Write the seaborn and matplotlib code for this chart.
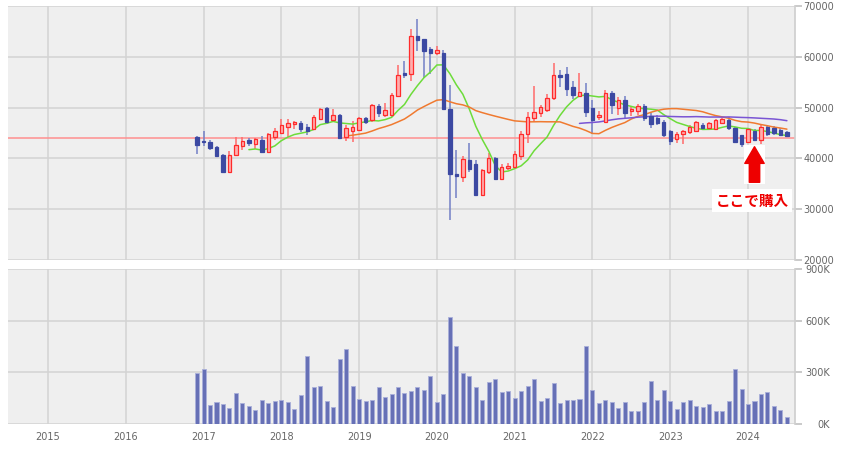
import numpy as np
import pandas as pd
import matplotlib.pyplot as plt
import seaborn as sns
from matplotlib.patches import Rectangle

# ----- dati mensili (dic 2016 - lug 2024) -----
first_month = "2016-12"

opens = [44200,
         43500, 43300, 42200, 40600, 37400, 40600, 42500, 43600, 42900, 43700, 41200, 44300,
         45000, 46200, 46800, 47000, 46100, 45700, 47700, 49900, 47600, 48600, 44300, 45400,
         45600, 47900, 47600, 50400, 48500, 48500, 52300, 56900, 56600, 64100, 63600, 61500,
         60700, 60700, 49800, 36900, 36400, 39700, 38800, 32800, 37400, 40000, 36000, 38200,
         38400, 40500, 44900, 47900, 49000, 49500, 51800, 56500, 56700, 54000, 52200, 52800,
         49900, 48100, 47200, 52900, 50000, 51500, 49300, 49300, 50300, 48300, 48000, 47200,
         45300, 43800, 44800, 45200, 45400, 46600, 45900, 45800, 46900, 47500, 45900, 44600,
         43300, 45400, 43700, 46200, 45900, 45600, 45200]
highs = [44400,
         45300, 43700, 42500, 40900, 41500, 44200, 44200, 44100, 44100, 44500, 45000, 46000,
         47700, 47700, 47400, 47300, 46700, 48500, 50000, 50200, 49800, 48800, 46600, 47400,
         48100, 48200, 50800, 50800, 51000, 52800, 58400, 59200, 65400, 67400, 63600, 61900,
         62100, 61300, 54400, 41700, 40500, 43000, 39600, 38000, 41000, 40300, 38800, 39100,
         41400, 45300, 49100, 54300, 50600, 52700, 58700, 57400, 58000, 55300, 56900, 54800,
         51500, 49300, 53500, 53300, 52000, 52300, 50300, 50800, 50800, 49000, 48500, 47500,
         45600, 45100, 45600, 46500, 47400, 46900, 47200, 47700, 48000, 48200, 46200, 44700,
         45900, 45700, 46500, 46600, 46300, 45900, 45400]
lows = [40900,
        42500, 41600, 40200, 37200, 37200, 40400, 41700, 42400, 41900, 41000, 41000, 43600,
        44900, 44200, 45800, 45200, 44600, 45600, 47500, 46800, 47400, 43800, 43500, 43300,
        45500, 46800, 47200, 48100, 48100, 48100, 52300, 55800, 55200, 61200, 55800, 56700,
        60300, 49700, 27900, 32200, 35300, 37300, 32600, 32600, 36900, 35700, 35800, 37800,
        38000, 39700, 43000, 47200, 48100, 49100, 51500, 54100, 52300, 51700, 52000, 48200,
        44900, 47600, 47100, 48800, 48500, 47800, 48400, 48500, 47400, 46000, 46500, 44300,
        42600, 43000, 42800, 44800, 45200, 45600, 45700, 45500, 46700, 45600, 43000, 42200,
        43000, 43500, 42900, 44500, 44600, 44400, 44200]
closes = [42600,
          43200, 42100, 40500, 37400, 40700, 42600, 43400, 43000, 43800, 41200, 44800, 45300,
          46600, 47000, 47200, 45700, 45400, 48100, 49700, 47200, 48600, 44000, 45900, 46200,
          47900, 47200, 50500, 48900, 49500, 52500, 56400, 56500, 64100, 63300, 61200, 60700,
          61300, 49700, 37000, 36600, 39800, 37900, 32800, 37700, 40000, 35900, 38300, 38600,
          40900, 44800, 48200, 49200, 50100, 51900, 56400, 56100, 53600, 52500, 53100, 49200,
          47600, 48500, 52900, 50500, 51500, 49000, 49800, 50300, 48000, 46700, 47000, 44700,
          43400, 44900, 45300, 46200, 47200, 45900, 46900, 47500, 47700, 45900, 43200, 42900,
          45700, 43700, 46100, 44800, 45000, 44700, 44500]
volumes_k = [295,
             320, 111, 126, 115, 91, 179, 120, 105, 82, 140, 120, 134,
             140, 126, 89, 167, 396, 212, 223, 134, 97, 377, 435, 223,
             146, 134, 140, 212, 159, 173, 212, 179, 192, 212, 198, 280,
             126, 173, 619, 454, 295, 280, 212, 140, 241, 262, 185, 192,
             153, 192, 223, 262, 134, 153, 237, 120, 140, 140, 146, 454,
             198, 120, 140, 126, 95, 126, 76, 76, 126, 250, 140, 198,
             134, 87, 126, 140, 107, 101, 114, 76, 76, 134, 320, 204,
             114, 134, 173, 185, 107, 82, 39]

ma_windows = [9, 24, 60]
ma_colors = ["#6ddc3a", "#f07a30", "#7a55d4"]

buy_price = 44100
buy_month = "2024-02"
buy_label = "ここで購入"


def main():
    sns.set_theme(style="whitegrid")
    plt.rcParams["font.family"] = ["DejaVu Sans", "Noto Sans CJK JP"]

    months = pd.period_range(first_month, periods=len(closes), freq="M")
    df = pd.DataFrame({
        "t": months.year + (months.month - 1) / 12,
        "open": opens, "high": highs, "low": lows, "close": closes,
        "volume": np.array(volumes_k) * 1000,
    })
    for w in ma_windows:
        df[f"ma{w}"] = df["close"].rolling(w).mean()

    bp = pd.Period(buy_month, freq="M")
    buy_t = bp.year + (bp.month - 1) / 12

    W, H = 843, 451
    fig = plt.figure(figsize=(W / 100, H / 100), dpi=100)
    ax1 = fig.add_axes([8 / W, 1 - 260 / H, 787 / W, 254 / H])
    ax2 = fig.add_axes([8 / W, 1 - 424 / H, 787 / W, 155 / H])

    # ----- candele -----
    up = (df["close"] >= df["open"]).to_numpy()
    ax1.vlines(df["t"], df["low"], df["high"],
               colors=np.where(up, "#ff6a6a", "#7280c6"), lw=1.1, zorder=3)
    body = (df["close"] - df["open"]).abs().clip(lower=200)
    ax1.bar(df["t"], body, bottom=np.minimum(df["open"], df["close"]), width=0.044,
            color=np.where(up, "#ffaeae", "#3c49a2"),
            edgecolor=np.where(up, "#ff2b2b", "#3c49a2"), lw=0.9, zorder=4)

    # medie mobili
    for w, c in zip(ma_windows, ma_colors):
        sns.lineplot(data=df, x="t", y=f"ma{w}", color=c, lw=1.1, ax=ax1, zorder=3.5)

    ax1.axhline(buy_price, color="#ff8f8f", lw=1.1, zorder=2.5)

    # freccia + etichetta
    ax1.add_patch(Rectangle((buy_t - 0.135, 35000), 0.27, 7600,
                            facecolor="white", edgecolor="none", zorder=5))
    ax1.annotate("", xy=(buy_t, 42300), xytext=(buy_t, 35300),
                 arrowprops=dict(arrowstyle="simple,head_length=1.2,head_width=1.4,tail_width=0.75",
                                 color="#ee0000", shrinkA=0, shrinkB=0, mutation_scale=10),
                 zorder=6)
    ax1.text(buy_t - 0.03, 31650, buy_label, color="#ee0000", fontsize=10.5,
             fontweight="bold", ha="center", va="center",
             family=["Noto Sans CJK JP", "DejaVu Sans"],
             bbox=dict(facecolor="white", edgecolor="none", pad=2.5), zorder=6)

    # ----- volumi -----
    sns.barplot(data=df, x="t", y="volume", native_scale=True, width=0.62,
                color="#6670b6", saturation=1, edgecolor="#a9afda", linewidth=0.6,
                errorbar=None, ax=ax2, zorder=3)

    # ----- assi -----
    for ax in (ax1, ax2):
        ax.set_facecolor("#efefef")
        ax.grid(True, color="#d3d3d3", lw=1.1)
        ax.set_axisbelow(True)
        ax.set_xlim(2014.486, 2024.604)
        ax.set_xticks(range(2015, 2025))
        for s in ("left", "top", "bottom"):
            ax.spines[s].set_visible(False)
        ax.spines["right"].set_color("#cfcfcf")
        ax.yaxis.tick_right()
        ax.tick_params(axis="y", length=5, color="#c4c4c4", labelsize=7,
                       labelcolor="#666666", pad=1)
        ax.set_xlabel("")
        ax.set_ylabel("")

    ax1.set_ylim(20000, 70000)
    ax1.set_yticks(range(20000, 70001, 10000))
    ax1.tick_params(axis="x", length=0, labelbottom=False)

    ax2.set_ylim(0, 900000)
    ax2.set_yticks([0, 300000, 600000, 900000])
    ax2.set_yticklabels([f"{v // 1000}K" for v in [0, 300000, 600000, 900000]])
    for lab in ax2.get_yticklabels():
        lab.set_horizontalalignment("right")
    ax2.tick_params(axis="y", pad=20)
    ax2.set_xticklabels([str(y) for y in range(2015, 2025)])
    ax2.tick_params(axis="x", length=5, color="#c4c4c4", labelsize=7,
                    labelcolor="#666666", pad=1)

    fig.savefig("out.png", dpi=100)


if __name__ == "__main__":
    main()
